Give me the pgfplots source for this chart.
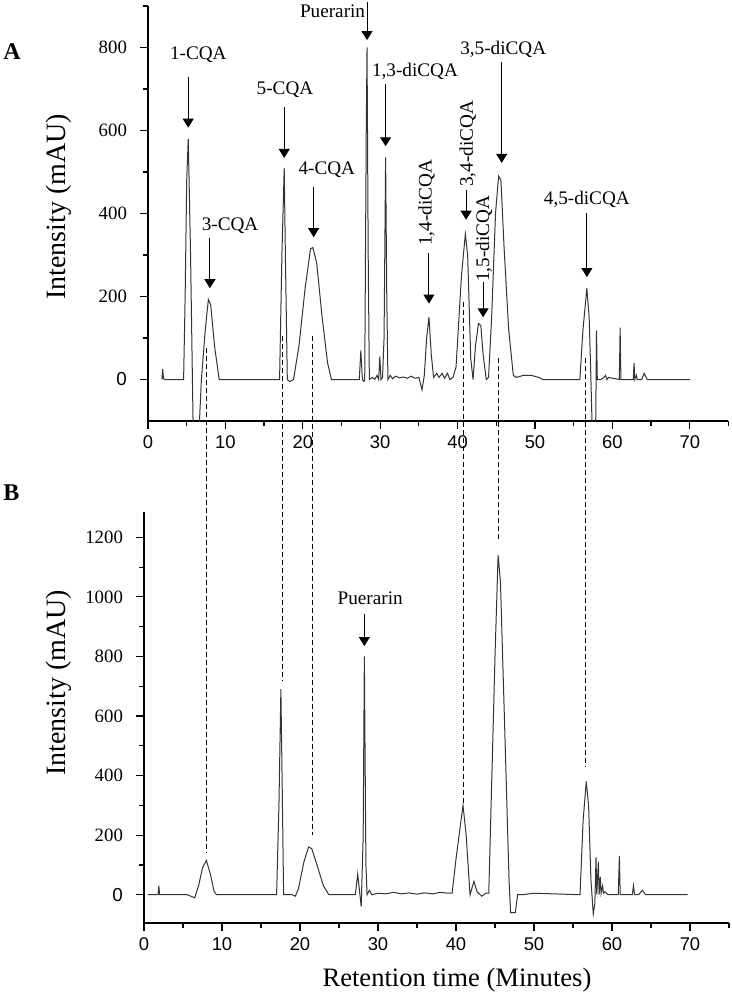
\documentclass[border=0pt]{standalone}
\usepackage{fontspec}
\setmainfont{Liberation Serif}
\setsansfont{Liberation Sans}
\usepackage{pgfplots}
\pgfplotsset{compat=1.18}
\usetikzlibrary{arrows.meta}

\pgfplotsset{
  chrom/.style={
    scale only axis,
    axis x line*=bottom, axis y line*=left,
    axis line style={line width=0.75pt, black},
    xmin=0, xmax=75,
    xtick={0,10,...,70}, minor xtick={5,15,...,75},
    tick align=outside,
    major tick length=4pt, minor tick length=2.5pt,
    every tick/.style={black, line width=0.6pt},
    /pgf/number format/assume math mode=true,
    xticklabel style={font=\fontsize{9.2}{10}\selectfont\sffamily},
    yticklabel style={font=\fontsize{9.4}{10}\selectfont, xshift=-3pt},
    ylabel={Intensity (mAU)},
    ylabel style={font=\fontsize{14}{16}\selectfont},
    xlabel style={font=\fontsize{13.3}{15}\selectfont},
    clip mode=individual,
  },
  trace/.style={black!80, line width=0.5pt, sharp plot, mark=none},
}
\tikzset{
  lbl/.style={font=\fontsize{9.6}{11}\selectfont, inner sep=0pt},
  arr/.style={-{Triangle[length=4.5pt,width=5.5pt]}, line width=0.5pt, black},
  conn/.style={black, line width=0.5pt, dash pattern=on 2.5pt off 1.5pt},
}

\begin{document}
\begin{tikzpicture}
% ---------------- panel A: standard mixture
\begin{axis}[chrom, name=A,
  at={(74pt,-210.5pt)}, anchor=south west,
  width=290.25pt, height=207.5pt,
  ymin=-100, ymax=900,
  ytick={0,200,...,800}, yticklabels={\textsf{0},200,400,600,800},
  minor ytick={100,300,...,900},
  ylabel style={at={(axis description cs:-0.153,0.516)}, anchor=center},
]
\addplot[trace] coordinates {
 (1.8,0) (1.9,25) (2.0,2) (2.2,0) (4.6,0) (4.8,200) (5.0,480) (5.2,580)
 (5.5,300) (5.9,-200) (6.4,-200) (6.9,0) (7.4,120) (7.8,193) (8.1,180)
 (8.6,80) (9.2,0) (17.0,0) (17.3,300) (17.6,510) (17.75,300) (18.0,0)
 (18.3,-5) (18.8,0) (19.5,80) (20.3,220) (21.0,315) (21.3,318) (21.8,280)
 (22.5,150) (23.2,40) (23.7,0) (27.3,0) (27.5,70) (27.7,0) (27.9,-5)
 (28.0,0) (28.2,600) (28.3,800) (28.45,300) (28.6,0) (29.0,5) (29.3,0)
 (29.6,10) (29.8,0) (29.95,55) (30.1,0) (30.3,5) (30.5,100) (30.7,535)
 (30.85,200) (31.0,0) (31.3,10) (31.6,2) (32,8) (32.5,4) (33,6) (33.5,3)
 (34,8) (34.5,3) (35,5) (35.4,-25) (35.7,10) (36.0,100) (36.3,150)
 (36.6,60) (36.9,5) (37.3,15) (37.6,5) (38,15) (38.3,3) (38.7,15) (39.0,0)
 (39.4,5) (39.8,30) (40.5,250) (41.0,350) (41.3,300) (41.7,50) (42.0,0)
 (42.3,80) (42.7,135) (43.0,130) (43.3,60) (43.7,0) (44.0,5) (44.4,150)
 (44.9,400) (45.3,490) (45.6,480) (46.0,320) (46.6,120) (47.2,10)
 (47.6,5) (48.5,10) (49.5,10) (50.5,5) (51,0) (55.8,0) (56.2,120)
 (56.7,220) (57.0,150) (57.2,20) (57.5,-200) (57.8,-200) (57.95,118)
 (58.05,0) (58.5,0) (58.9,5) (59.1,10) (59.3,0) (59.5,5) (60.9,0)
 (61.0,125) (61.1,0) (62.7,0) (62.8,40) (62.9,0) (63.1,10) (63.2,0)
 (63.8,0) (64.1,15) (64.5,0) (70,0)
};
% annotations
\node[lbl] at (6.5,783) {1-CQA};
\draw[arr] (5.2,730) -- (5.2,607);
\node[lbl] at (10.6,370) {3-CQA};
\draw[arr] (8.0,341) -- (8.0,220);
\node[lbl] at (17.7,699) {5-CQA};
\draw[arr] (17.6,656) -- (17.6,534);
\node[lbl] at (23.1,505) {4-CQA};
\draw[arr] (21.4,465) -- (21.4,343);
\node[lbl, anchor=east] at (28.1,888) {Puerarin};
\draw[arr] (28.3,910) -- (28.3,818);
\node[lbl] at (34.5,743) {1,3-diCQA};
\draw[arr] (30.7,713) -- (30.7,562);
\node[lbl, rotate=90] at (36.0,426) {1,4-diCQA};
\draw[arr] (36.3,304) -- (36.3,183);
\node[lbl, rotate=90] at (41.3,568) {3,4-diCQA};
\draw[arr] (41.1,457) -- (41.1,385);
\node[lbl, rotate=90] at (43.4,339) {1,5-diCQA};
\draw[arr] (43.3,235) -- (43.3,150);
\node[lbl] at (45.9,796) {3,5-diCQA};
\draw[arr] (45.7,764) -- (45.7,522);
\node[lbl] at (56.7,433) {4,5-diCQA};
\draw[arr] (56.7,401) -- (56.7,247);
% ends of the connecting lines
\coordinate (a1) at (7.6,77);
\coordinate (a2) at (17.4,106);
\coordinate (a3) at (21.3,106);
\coordinate (a4) at (40.7,186);
\coordinate (a5) at (45.3,51);
\coordinate (a6) at (56.5,51);
\end{axis}

% ---------------- panel B: sample
\begin{axis}[chrom, name=B,
  at={(72pt,-461.5pt)}, anchor=south west,
  width=292.5pt, height=205.5pt,
  ymin=-95, ymax=1285,
  ytick={0,200,...,1200}, yticklabels={\textsf{0},200,400,600,800,1000,1200},
  minor ytick={100,300,...,1100},
  ylabel style={at={(axis description cs:-0.145,0.584)}, anchor=center},
  xlabel={Retention time (Minutes)},
  xlabel style={at={(axis description cs:0.535,-0.139)}, anchor=center},
]
\addplot[trace] coordinates {
 (0.5,0) (1.8,0) (1.9,30) (2.0,0) (5.5,0) (6.0,-5) (6.5,-10) (7.0,30)
 (7.5,90) (8.0,115) (8.5,70) (9.0,10) (9.3,0) (17.0,0) (17.3,300)
 (17.55,690) (17.7,400) (17.9,0) (19.0,0) (19.4,-5) (19.8,20) (20.5,110)
 (21.1,160) (21.5,155) (22.3,90) (23.0,30) (23.7,0) (27.1,0) (27.4,70)
 (27.6,20) (27.85,-40) (28.1,200) (28.25,800) (28.45,100) (28.6,0)
 (28.9,15) (29.2,0) (30,5) (31,3) (32,8) (33,3) (34,6) (35,2) (36,6)
 (37,3) (38,8) (39,5) (39.5,5) (40.0,120) (40.9,300) (41.3,200) (41.8,0)
 (42.3,45) (42.7,10) (43.3,-5) (43.8,5) (44.2,5) (44.5,300) (45.0,800)
 (45.4,1140) (45.7,1050) (46.2,600) (46.8,50) (47.0,-60) (47.6,-60)
 (47.9,0) (48.5,0) (50,5) (55.9,0) (56.3,250) (56.7,380) (57.0,300)
 (57.3,50) (57.6,-65) (57.8,-30) (57.95,125) (58.05,0) (58.25,110)
 (58.35,0) (58.5,60) (58.6,5) (58.8,30) (58.9,5) (59.1,10) (59.5,0)
 (60.8,0) (60.95,130) (61.05,0) (62.6,0) (62.75,30) (62.9,0) (63.4,0)
 (63.9,15) (64.3,0) (69.7,0)
};
\node[lbl] at (29.0,995) {Puerarin};
\draw[arr] (28.25,944) -- (28.25,835);
\coordinate (b1) at (8.0,140);
\coordinate (b2) at (17.7,720);
\coordinate (b3) at (21.5,200);
\coordinate (b4) at (40.7,300);
\coordinate (b5) at (45.4,1190);
\coordinate (b6) at (56.5,430);
\end{axis}

\foreach \i in {1,...,6} \draw[conn] (a\i) -- (a\i |- b\i);

\node[font=\fontsize{12}{14}\selectfont\bfseries, anchor=west, inner sep=0pt] at (1.5pt,-26pt) {A};
\node[font=\fontsize{12}{14}\selectfont\bfseries, anchor=west, inner sep=0pt] at (1.5pt,-246.5pt) {B};

\pgfresetboundingbox
\path (0,0) rectangle (366pt,-496.5pt);
\end{tikzpicture}
\end{document}
